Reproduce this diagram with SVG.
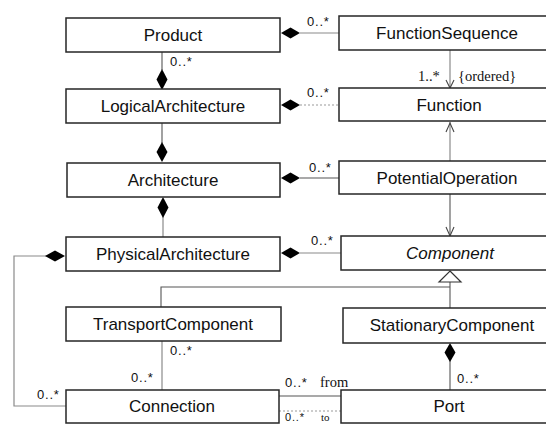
<svg xmlns="http://www.w3.org/2000/svg" width="546" height="424" viewBox="0 0 546 424">
<style>
.box{fill:#fff;stroke:#262626;stroke-width:1.5}
.name{font-family:"Liberation Sans",Arial,sans-serif;font-size:17px;fill:#111;text-anchor:middle}
.it{font-style:italic}
.ln{fill:none;stroke:#8a8a8a;stroke-width:1.2}
.dk{fill:none;stroke:#555;stroke-width:1.1}
.dash{fill:none;stroke:#999;stroke-width:1;stroke-dasharray:2 2}
.dia{fill:#000;stroke:none}
.m{font-family:"Liberation Sans",Arial,sans-serif;font-size:13px;letter-spacing:0.8px;fill:#111}
.s{font-family:"Liberation Serif","Times New Roman",serif;font-size:14.5px;fill:#111}
.sm{font-size:11px}
.arr{fill:none;stroke:#444;stroke-width:1.1}
.tri{fill:#fff;stroke:#333;stroke-width:1.2}
</style>
<rect width="546" height="424" fill="#fff"/>
<g id="connectors">
  <line class="ln" x1="300" y1="33" x2="339" y2="33"/>
  <polygon class="dia" points="281,33 290.5,27.5 300,33 290.5,38.5"/>
  <text class="m" x="307" y="26">0..*</text>
  <line class="dk" x1="162" y1="52" x2="162" y2="70"/>
  <polygon class="dia" points="162,69 167.5,79.5 162,90 156.5,79.5"/>
  <text class="m" x="170" y="66">0..*</text>
  <line class="dash" x1="300" y1="105" x2="339" y2="105"/>
  <polygon class="dia" points="281,105 290.5,99.5 300,105 290.5,110.5"/>
  <text class="m" x="307" y="97">0..*</text>
  <line class="dk" x1="162" y1="123" x2="162" y2="143"/>
  <polygon class="dia" points="162,142 167.5,152 162,162 156.5,152"/>
  <line class="dk" x1="300" y1="178" x2="339" y2="178"/>
  <polygon class="dia" points="281,178 290.5,172.5 300,178 290.5,183.5"/>
  <text class="m" x="309" y="172">0..*</text>
  <line class="ln" x1="163" y1="216" x2="163" y2="237"/>
  <polygon class="dia" points="163,197 168.5,207.5 163,218 157.5,207.5"/>
  <line class="ln" x1="300" y1="253" x2="341" y2="253"/>
  <polygon class="dia" points="281,253 290.5,247.5 300,253 290.5,258.5"/>
  <text class="m" x="311" y="245">0..*</text>
  <line class="ln" x1="450" y1="50" x2="450" y2="88"/>
  <polyline class="arr" points="446,80 450,88 454,80"/>
  <text class="s" x="418" y="81">1..*</text>
  <text class="s" x="458" y="81">{ordered}</text>
  <line class="ln" x1="450" y1="161" x2="450" y2="122"/>
  <polyline class="arr" points="446,132 450,123 454,132"/>
  <line class="dk" x1="450" y1="194" x2="450" y2="236"/>
  <polyline class="arr" points="446,227 450,236 454,227"/>
  <polyline class="dk" points="161,308 161,287 450,287"/>
  <line class="dk" x1="450" y1="282" x2="450" y2="308"/>
  <polygon class="tri" points="450,271 461,282 439,282"/>
  <line class="dk" x1="450" y1="360" x2="450" y2="390"/>
  <polygon class="dia" points="450,343 455.5,352.5 450,362 444.5,352.5"/>
  <text class="m" x="457" y="383">0..*</text>
  <line class="ln" x1="162" y1="341" x2="162" y2="390"/>
  <text class="m" x="170" y="355">0..*</text>
  <text class="m" x="131" y="382">0..*</text>
  <polyline class="ln" points="47,256 14,256 14,406 66,406"/>
  <polygon class="dia" points="45,256 55,250.5 65,256 55,261.5"/>
  <text class="m" x="37" y="399">0..*</text>
  <line class="dk" x1="279" y1="396" x2="341" y2="396"/>
  <text class="m" x="285" y="387">0..*</text>
  <text class="s" x="320" y="387">from</text>
  <line class="dash" x1="279" y1="411" x2="341" y2="411"/>
  <text class="m sm" x="285" y="421">0..*</text>
  <text class="s sm" x="321" y="421">to</text>
</g>
<g id="Product"><rect class="box" x="66" y="18" width="214" height="34"/><text class="name" x="173" y="41">Product</text></g>
<g id="FunctionSequence"><rect class="box" x="339" y="16" width="220" height="34"/><text class="name" x="447" y="39">FunctionSequence</text></g>
<g id="LogicalArchitecture"><rect class="box" x="66" y="89" width="214" height="34"/><text class="name" x="173" y="112">LogicalArchitecture</text></g>
<g id="Function"><rect class="box" x="339" y="88" width="220" height="33"/><text class="name" x="449" y="111">Function</text></g>
<g id="Architecture"><rect class="box" x="67" y="163" width="213" height="34"/><text class="name" x="173" y="186">Architecture</text></g>
<g id="PotentialOperation"><rect class="box" x="339" y="161" width="220" height="33"/><text class="name" x="447" y="184">PotentialOperation</text></g>
<g id="PhysicalArchitecture"><rect class="box" x="66" y="237" width="214" height="34"/><text class="name" x="173" y="260">PhysicalArchitecture</text></g>
<g id="Component"><rect class="box" x="341" y="236" width="220" height="34"/><text class="name it" x="450" y="259">Component</text></g>
<g id="TransportComponent"><rect class="box" x="66" y="307" width="215" height="34"/><text class="name" x="173" y="330">TransportComponent</text></g>
<g id="StationaryComponent"><rect class="box" x="343" y="308" width="220" height="35"/><text class="name" x="452" y="331">StationaryComponent</text></g>
<g id="Connection"><rect class="box" x="66" y="390" width="213" height="33"/><text class="name" x="172" y="412">Connection</text></g>
<g id="Port"><rect class="box" x="341" y="390" width="220" height="33"/><text class="name" x="449" y="412">Port</text></g>
</svg>
